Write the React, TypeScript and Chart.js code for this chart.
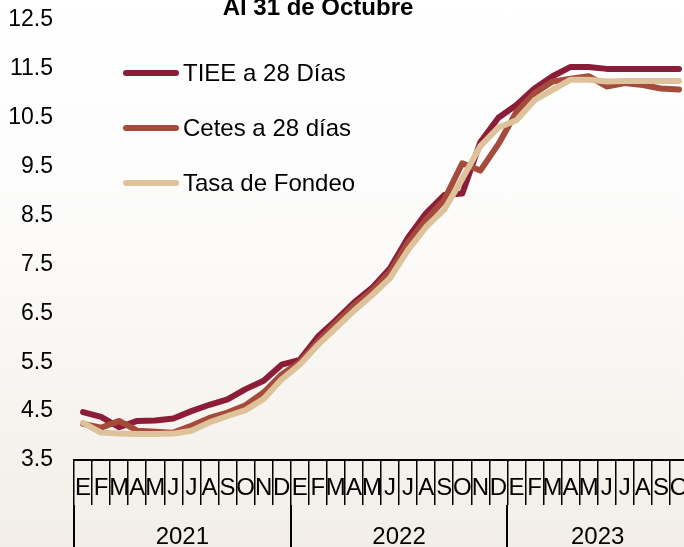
import React, { useEffect, useRef } from "react";
import { Chart, registerables } from "chart.js";

Chart.register(...registerables);

const FONT = '"Liberation Sans", Arial, Helvetica, sans-serif';

const titleText = "Al 31 de Octubre";

const months = [
  "E", "F", "M", "A", "M", "J", "J", "A", "S", "O", "N", "D",
  "E", "F", "M", "A", "M", "J", "J", "A", "S", "O", "N", "D",
  "E", "F", "M", "A", "M", "J", "J", "A", "S", "O",
];

const years = ["2021", "2022", "2023"];
const yearMonthCounts = [12, 12, 10];

const yTickValues = [3.5, 4.5, 5.5, 6.5, 7.5, 8.5, 9.5, 10.5, 11.5, 12.5];

const tiee = [
  4.48, 4.38, 4.17, 4.30, 4.31, 4.35, 4.50, 4.63, 4.74, 4.95, 5.12, 5.45,
  5.55, 6.02, 6.36, 6.72, 7.02, 7.42, 8.05, 8.55, 8.92, 8.95, 10.0, 10.5,
  10.76, 11.1, 11.35, 11.54, 11.54, 11.5, 11.5, 11.5, 11.5, 11.5,
];

const cetes = [
  4.24, 4.16, 4.30, 4.10, 4.08, 4.06, 4.20, 4.36, 4.47, 4.62, 4.88, 5.25,
  5.5, 5.92, 6.3, 6.66, 6.96, 7.35, 7.95, 8.42, 8.82, 9.57, 9.42, 9.96,
  10.62, 11.0, 11.24, 11.3, 11.35, 11.14, 11.21, 11.17, 11.1, 11.08,
];

const tasa = [
  4.26, 4.06, 4.04, 4.03, 4.03, 4.04, 4.10, 4.27, 4.40, 4.52, 4.75, 5.15,
  5.45, 5.85, 6.2, 6.55, 6.87, 7.22, 7.8, 8.27, 8.62, 9.25, 9.92, 10.3,
  10.45, 10.86, 11.07, 11.28, 11.28, 11.24, 11.25, 11.25, 11.25, 11.25,
];

const seriesLabels = ["TIEE a 28 Días", "Cetes a 28 días", "Tasa de Fondeo"];
const seriesColors = ["#8B1D38", "#A44B3C", "#DEC29B"];

// year boundaries and centers derived from month counts
const yearBoundaries: number[] = [];
const yearCenters: number[] = [];
{
  let start = 0;
  yearBoundaries.push(start - 0.5);
  yearMonthCounts.forEach((c) => {
    yearCenters.push(start + c / 2 - 0.5);
    start += c;
    yearBoundaries.push(start - 0.5);
  });
}

const overlayPlugin = {
  id: "overlay",
  afterDraw(chart: any) {
    const ctx = chart.ctx as CanvasRenderingContext2D;
    ctx.save();
    ctx.fillStyle = "#000";
    ctx.font = `bold 24px ${FONT}`;
    ctx.textAlign = "center";
    ctx.textBaseline = "alphabetic";
    ctx.fillText(titleText, 318, 35);

    chart.data.datasets.forEach((ds: any, i: number) => {
      const y = 93 + i * 55;
      ctx.strokeStyle = ds.borderColor;
      ctx.lineWidth = 6;
      ctx.lineCap = "round";
      ctx.beginPath();
      ctx.moveTo(126, y);
      ctx.lineTo(176, y);
      ctx.stroke();
      ctx.fillStyle = "#000";
      ctx.font = `24px ${FONT}`;
      ctx.textAlign = "left";
      ctx.textBaseline = "middle";
      ctx.fillText(ds.label, 183, y + 1);
    });
    ctx.restore();
  },
};

export default function App() {
  const ref = useRef<HTMLCanvasElement>(null);

  useEffect(() => {
    const mk = (label: string, data: number[], color: string, order: number) => ({
      label,
      data,
      borderColor: color,
      backgroundColor: color,
      borderWidth: 6,
      pointRadius: 0,
      pointHoverRadius: 0,
      tension: 0,
      fill: false,
      borderCapStyle: "round" as const,
      borderJoinStyle: "round" as const,
      order,
      xAxisID: "x",
      yAxisID: "y",
    });

    const chart = new Chart(ref.current!, {
      type: "line",
      data: {
        labels: months,
        datasets: [
          mk(seriesLabels[0], tiee, seriesColors[0], 2),
          mk(seriesLabels[1], cetes, seriesColors[1], 1),
          mk(seriesLabels[2], tasa, seriesColors[2], 0),
        ],
      },
      options: {
        responsive: false,
        animation: false,
        devicePixelRatio: 1,
        layout: { padding: { left: 8, right: 12, top: 40, bottom: 10.6 } },
        plugins: {
          legend: { display: false },
          title: { display: false },
          tooltip: { enabled: false },
        },
        scales: {
          x: {
            type: "category",
            position: "bottom",
            weight: 0,
            offset: true,
            afterFit: (s: any) => {
              s.height = 45;
            },
            grid: {
              display: true,
              drawOnChartArea: false,
              drawTicks: true,
              tickLength: 45,
              offset: true,
              color: "#000",
              lineWidth: 1.5,
            },
            border: { display: true, color: "#000", width: 2 },
            ticks: {
              autoSkip: false,
              maxRotation: 0,
              minRotation: 0,
              color: "#000",
              font: { family: FONT, size: 24, lineHeight: 34 / 24 },
              padding: -34,
            },
          },
          x2: {
            type: "linear",
            position: "bottom",
            weight: 1,
            min: yearBoundaries[0],
            max: yearBoundaries[yearBoundaries.length - 1],
            offset: false,
            afterFit: (s: any) => {
              s.height = 44.4;
            },
            afterBuildTicks: (s: any) => {
              const vals = [...yearBoundaries, ...yearCenters].sort((a, b) => a - b);
              s.ticks = vals.map((v) => ({ value: v }));
            },
            grid: {
              display: true,
              drawOnChartArea: false,
              drawTicks: true,
              tickLength: 60,
              lineWidth: 2,
              color: (c: any) =>
                c.tick && yearBoundaries.includes(c.tick.value) ? "#000" : "rgba(0,0,0,0)",
            },
            border: { display: false },
            ticks: {
              autoSkip: false,
              maxRotation: 0,
              minRotation: 0,
              color: "#000",
              font: { family: FONT, size: 24, lineHeight: 1.2 },
              padding: -42.4,
              callback: (v: any) => {
                const idx = yearCenters.indexOf(Number(v));
                return idx >= 0 ? years[idx] : "";
              },
            },
          },
          y: {
            type: "linear",
            min: yTickValues[0],
            max: yTickValues[yTickValues.length - 1],
            afterFit: (s: any) => {
              s.width = 66;
            },
            afterBuildTicks: (s: any) => {
              s.ticks = yTickValues.map((v) => ({ value: v }));
            },
            grid: { display: false, drawTicks: false },
            border: { display: false },
            ticks: {
              color: "#000",
              font: { family: FONT, size: 23 },
              padding: 21,
              callback: (v: any) => Number(v).toFixed(1),
            },
          },
        },
      },
      plugins: [overlayPlugin],
    });
    return () => chart.destroy();
  }, []);

  return (
    <div
      style={{
        position: "fixed",
        left: 0,
        top: 0,
        width: 684,
        height: 547,
        overflow: "hidden",
        background:
          "linear-gradient(180deg, #ffffff 0%, #fcfbfa 45%, #f2eee7 100%)",
      }}
    >
      <canvas
        ref={ref}
        width={700}
        height={580}
        style={{ position: "absolute", left: 0, top: -20, width: 700, height: 580 }}
      />
    </div>
  );
}
